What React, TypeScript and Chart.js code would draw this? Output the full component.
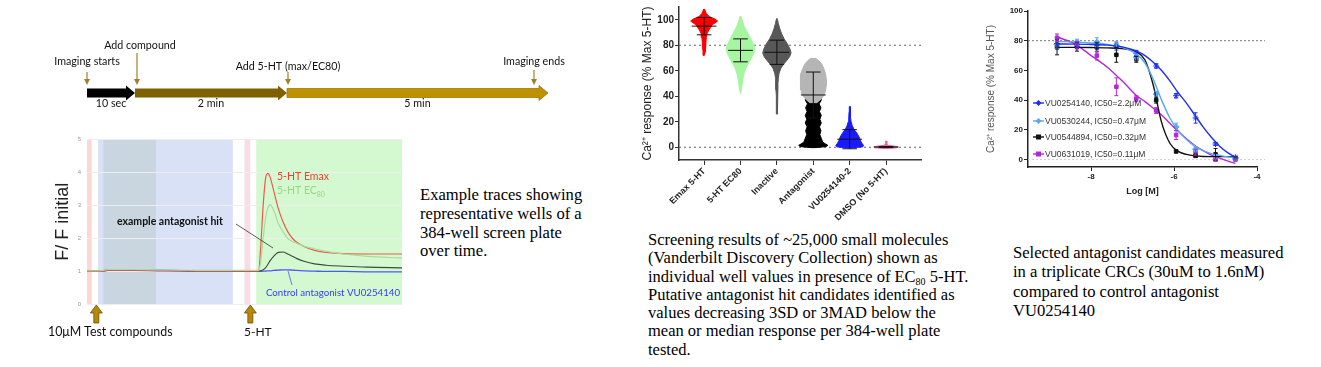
import React, { useEffect, useRef } from "react";
import { Chart, registerables } from "chart.js";
Chart.register(...registerables);
Chart.defaults.font.family = "'Liberation Sans', Arial, sans-serif";

// ===== Panel 1: protocol timeline (diagram units) =====
const timelineSegments = ["10 sec", "2 min", "5 min"];
const timelineStart = [0, 48, 200];
const timelineEnd = [48, 200, 461];
const timelineEvents = ["Imaging starts", "Add compound", "Add 5-HT (max/EC80)", "Imaging ends"];
const timelineEventAt = [0, 50, 201, 447];

// ===== Panel 2: example traces (time in s, F/F initial) =====
const traceTime = [0, 5, 10, 14, 18, 25, 40, 60, 80, 100, 120, 140, 147, 149, 151, 153, 155, 157, 160, 164, 168, 172, 176, 180, 186, 195, 205, 220, 240, 270];
const traceEmax = [1.0, 1.0, 1.0, 1.0, 1.03, 1.03, 1.03, 1.02, 1.01, 1.0, 1.0, 1.0, 1.0, 1.8, 3.0, 3.8, 3.97, 3.85, 3.45, 2.9, 2.5, 2.2, 2.0, 1.87, 1.75, 1.63, 1.57, 1.53, 1.52, 1.52];
const traceEC80 = [1.01, 1.01, 1.01, 1.02, 1.05, 1.05, 1.05, 1.04, 1.03, 1.02, 1.02, 1.02, 1.02, 1.3, 2.0, 2.6, 2.92, 3.02, 2.85, 2.45, 2.2, 2.0, 1.9, 1.84, 1.76, 1.68, 1.6, 1.52, 1.45, 1.4];
const traceHit = [1.0, 1.0, 1.0, 1.01, 1.04, 1.04, 1.04, 1.03, 1.02, 1.01, 1.01, 1.01, 1.0, 1.01, 1.04, 1.1, 1.2, 1.32, 1.45, 1.57, 1.58, 1.52, 1.45, 1.38, 1.3, 1.22, 1.18, 1.15, 1.12, 1.1];
const traceControl = [0.99, 0.99, 0.99, 1.0, 1.02, 1.02, 1.02, 1.01, 1.0, 0.99, 0.99, 0.99, 0.99, 0.99, 1.0, 1.0, 1.01, 1.01, 1.02, 1.03, 1.04, 1.04, 1.03, 1.02, 1.01, 1.0, 0.99, 0.99, 0.98, 0.98];
const bandStart = [0, 9.5, 14, 135, 145];
const bandEnd = [4, 125, 59, 140, 270];
const additionTimes = [8, 140];

// ===== Panel 3: screening distribution =====
const violinGroups = ["Emax 5-HT", "5-HT EC80", "Inactive", "Antagonist", "VU0254140-2", "DMSO (No 5-HT)"];
const violinMean = [95, 76, 74.5, 41, 6.3, 0.2];
const violinSD = [6.8, 9, 9.5, 18, 7.5, 0.3];
const emaxLevels = [108.5, 105, 102.5, 100.5, 99, 97.5, 96, 94, 92, 89, 86, 82, 78, 75, 72];
const emaxWidths = [0.01, 0.06, 0.14, 0.3, 0.37, 0.3, 0.22, 0.18, 0.13, 0.08, 0.06, 0.05, 0.04, 0.03, 0.005];
const ec80Levels = [103, 99, 95, 91, 87, 83, 80, 77, 74, 70, 66, 62, 58, 54, 50, 46, 42];
const ec80Widths = [0.01, 0.05, 0.1, 0.17, 0.25, 0.32, 0.37, 0.39, 0.37, 0.3, 0.22, 0.15, 0.1, 0.07, 0.05, 0.03, 0.005];
const inactiveLevels = [101, 97, 93, 89, 85, 81, 77, 74, 71, 68, 65, 62, 58, 54, 50, 45, 40, 35, 30, 26];
const inactiveWidths = [0.01, 0.04, 0.08, 0.13, 0.2, 0.29, 0.36, 0.39, 0.35, 0.27, 0.18, 0.11, 0.06, 0.04, 0.03, 0.025, 0.02, 0.015, 0.01, 0.003];
const antagonistAllLevels = [70, 68, 65, 61, 57, 53, 49, 45, 41, 38, 35];
const antagonistAllWidths = [0.05, 0.15, 0.24, 0.3, 0.34, 0.36, 0.36, 0.34, 0.3, 0.22, 0.1];
const antagonistHitLevels = [42, 40, 37, 34, 31, 28, 25, 22, 19, 16, 13, 10, 7, 4, 2.5, 1.5, 0.5, -0.3];
const antagonistHitWidths = [0.04, 0.2, 0.22, 0.16, 0.21, 0.17, 0.22, 0.18, 0.22, 0.17, 0.21, 0.18, 0.22, 0.26, 0.34, 0.4, 0.36, 0.05];
const controlLevels = [32, 28, 24, 20, 17, 14, 11, 8, 5, 3, 1.5, 0.3, -0.5];
const controlWidths = [0.01, 0.015, 0.025, 0.04, 0.07, 0.12, 0.2, 0.26, 0.3, 0.34, 0.38, 0.36, 0.05];
const dmsoLevels = [5, 3, 1.5, 0.8, 0.2, -0.4, -1];
const dmsoWidths = [0.01, 0.02, 0.04, 0.25, 0.33, 0.3, 0.02];

// ===== Panel 4: concentration-response curves =====
const crcLogConc = [-8.82, -8.34, -7.86, -7.39, -6.91, -6.43, -5.95, -5.48, -5.0, -4.52];
const crcNames = ["VU0254140, IC50=2.2μM", "VU0530244, IC50=0.47μM", "VU0544894, IC50=0.32μM", "VU0631019, IC50=0.11μM"];
const vu0254140Mean = [78, 77.5, 77, 76.5, 71.5, 63, 43, 28, 10.5, 1.5];
const vu0254140Err = [3, 2, 2, 2, 2, 1.5, 1.5, 3.5, 1, 0.5];
const vu0530244Mean = [77.5, 79, 79, 76.5, 69, 44, 22, 7, 2, 0.5];
const vu0530244Err = [3, 2, 3, 3, 2, 2, 2.5, 1.5, 1, 0.5];
const vu0544894Mean = [75.5, 76, 75.5, 70.5, 67.5, 40, 5.5, 2.5, 3.5, 1];
const vu0544894Err = [5, 3, 3, 5, 2, 2, 1, 1, 4, 0.5];
const vu0631019Mean = [82, 77, 70, 49, 41, 33, 16.5, 5, 0, 0];
const vu0631019Err = [2.5, 2.5, 3, 6, 2, 2, 3, 2, 1, 1];
const curveLog = [-8.82, -8.4, -8.0, -7.6, -7.2, -6.9, -6.7, -6.5, -6.3, -6.1, -5.9, -5.7, -5.5, -5.3, -5.1, -4.9, -4.7, -4.52];
const vu0254140Fit = [77.8, 77.7, 77.5, 77, 75.5, 73, 70, 65.5, 60, 53, 45, 38, 30, 22, 15, 9, 4.5, 1.5];
const vu0530244Fit = [79.5, 79.2, 78.5, 77.5, 75, 71, 65, 54, 40, 28, 19.5, 13.5, 9, 6, 4, 2.8, 1.8, 1.2];
const vu0544894Fit = [75.5, 75.5, 75.4, 75.2, 74.5, 72.5, 67, 50, 25, 11, 5.5, 3.5, 2.5, 2.1, 2, 2, 2, 2];
const vu0631019Fit = [82.5, 78, 70, 62, 51.5, 43, 39, 34.5, 30, 24.5, 19, 14, 9.5, 6, 3, 1, -1, -2.5];

const crcMeans = [vu0254140Mean, vu0530244Mean, vu0544894Mean, vu0631019Mean];
const crcErrs = [vu0254140Err, vu0530244Err, vu0544894Err, vu0631019Err];
const crcFits = [vu0254140Fit, vu0530244Fit, vu0544894Fit, vu0631019Fit];
const crcColors = ["#1f2ef5", "#5aa8f2", "#111111", "#b228d8"];
const crcMarkers = ["star", "rectRot", "rect", "rect"];

const pts = (xs: number[], ys: number[]) => xs.map((x, i) => ({ x, y: ys[i] }));
const violinShape = (center: number, levels: number[], widths: number[]) => {
  const right = levels.map((y, i) => ({ x: center + widths[i], y }));
  const left = levels.map((y, i) => ({ x: center - widths[i], y })).reverse();
  return [...right, ...left];
};

function ChartBox({ make, left, top, width, height }: any) {
  const ref = useRef<HTMLCanvasElement>(null);
  useEffect(() => {
    const chart = new Chart(ref.current as HTMLCanvasElement, make());
    return () => chart.destroy();
  }, []);
  return (
    <canvas ref={ref} width={width} height={height}
      style={{ position: "absolute", left, top, width, height }} />
  );
}

// ---------- timeline ----------
const makeTimeline = () => ({
  type: "scatter",
  data: { datasets: [] },
  options: {
    animation: false, responsive: false,
    layout: { padding: 0 },
    plugins: { legend: { display: false }, tooltip: { enabled: false } },
    scales: {
      x: { type: "linear", min: -47, max: 493, display: false },
      y: { type: "linear", min: 0, max: 1, display: false },
    },
  },
  plugins: [{
    id: "timeline",
    afterDraw(chart: any) {
      const ctx = chart.ctx; const xs = chart.scales.x;
      const cy = 63, bh = 4.5, hh = 7.5, hl = 9;
      const fills = ["#000000", "#7f6000", "#bf9000"];
      ctx.save();
      timelineSegments.forEach((lab: string, i: number) => {
        const a = xs.getPixelForValue(timelineStart[i]);
        const b = xs.getPixelForValue(timelineEnd[i]);
        ctx.beginPath();
        ctx.moveTo(a, cy - bh); ctx.lineTo(b - hl, cy - bh); ctx.lineTo(b - hl, cy - hh);
        ctx.lineTo(b, cy); ctx.lineTo(b - hl, cy + hh); ctx.lineTo(b - hl, cy + bh);
        ctx.lineTo(a, cy + bh); ctx.closePath();
        ctx.fillStyle = fills[i]; ctx.fill();
        if (i === 2) { ctx.strokeStyle = "#a07a00"; ctx.lineWidth = 0.8; ctx.stroke(); }
        ctx.fillStyle = "#111"; ctx.font = "10.7px Lato"; ctx.textAlign = "center"; ctx.textBaseline = "middle";
        ctx.fillText(lab, (a + b) / 2, 74);
      });
      const labelY = [32, 16, 37, 32];
      const arrowTop = [42, 23, 42, 40];
      timelineEvents.forEach((lab: string, i: number) => {
        const x = xs.getPixelForValue(timelineEventAt[i]);
        ctx.strokeStyle = "#a08030"; ctx.fillStyle = "#a08030"; ctx.lineWidth = 1.2;
        ctx.beginPath(); ctx.moveTo(x, arrowTop[i]); ctx.lineTo(x, 50); ctx.stroke();
        ctx.beginPath(); ctx.moveTo(x - 3, 49); ctx.lineTo(x + 3, 49); ctx.lineTo(x, 55); ctx.closePath(); ctx.fill();
        ctx.fillStyle = "#111"; ctx.font = "10.7px Lato"; ctx.textAlign = "center"; ctx.textBaseline = "middle";
        ctx.fillText(lab, x + (i === 1 ? 3 : 0), labelY[i]);
      });
      ctx.restore();
    },
  }],
});

// ---------- traces ----------
const makeTraces = () => ({
  type: "line",
  data: {
    datasets: [
      { data: pts(traceTime, traceEC80), borderColor: "#a9dc9c", borderWidth: 1.2 },
      { data: pts(traceTime, traceEmax), borderColor: "#ee5a4a", borderWidth: 1.2 },
      { data: pts(traceTime, traceHit), borderColor: "#3d4a3d", borderWidth: 1.1 },
      { data: pts(traceTime, traceControl), borderColor: "#4a5cf0", borderWidth: 1.3 },
    ].map((d) => ({ ...d, pointRadius: 0, cubicInterpolationMode: "monotone", fill: false })),
  },
  options: {
    animation: false, responsive: false,
    layout: { padding: { left: 0, right: 5, top: 9, bottom: 24 } },
    plugins: { legend: { display: false }, tooltip: { enabled: false } },
    scales: {
      x: {
        type: "linear", min: 0, max: 270,
        ticks: { stepSize: 50, font: { size: 6 }, color: "#999", padding: 3, callback: (v: number) => (v === 0 ? "" : v) },
        grid: { display: false }, border: { display: false },
        afterFit: (s: any) => { s.height = 12; },
      },
      y: {
        min: 0, max: 5,
        ticks: { stepSize: 1, font: { size: 6 }, color: "#999", padding: 6 },
        grid: { color: "#eeeeee", drawTicks: false }, border: { display: false },
        title: { display: true, text: "F/ F initial", font: { size: 18 }, color: "#222", padding: { top: 2, bottom: 0 } },
        afterFit: (s: any) => { s.width = 37; },
      },
    },
  },
  plugins: [{
    id: "bands",
    beforeDraw(chart: any) {
      const { ctx, chartArea, scales } = chart;
      const colors = ["#ffd5d5", "#d9e1f7", "#c9d6e0", "#f8dde6", "#d4f9d0"];
      ctx.save();
      bandStart.forEach((s: number, i: number) => {
        const a = scales.x.getPixelForValue(s), b = scales.x.getPixelForValue(bandEnd[i]);
        ctx.fillStyle = colors[i];
        ctx.fillRect(a, chartArea.top, b - a, chartArea.bottom - chartArea.top);
      });
      ctx.restore();
    },
  }, {
    id: "traceNotes",
    afterDraw(chart: any) {
      const { ctx, scales, chartArea } = chart;
      ctx.save();
      ctx.textBaseline = "middle"; ctx.textAlign = "left";
      ctx.fillStyle = "#ef4035"; ctx.font = "10.5px Lato"; ctx.fillText("5-HT Emax", 227, 47);
      ctx.fillStyle = "#93d982"; ctx.fillText("5-HT EC", 227, 61);
      const w = ctx.measureText("5-HT EC").width;
      ctx.font = "7px Lato"; ctx.fillText("80", 227 + w, 64.5);
      ctx.fillStyle = "#111"; ctx.font = "bold 10.5px Lato"; ctx.fillText("example antagonist hit", 67, 92);
      ctx.strokeStyle = "#333"; ctx.lineWidth = 0.8;
      ctx.beginPath(); ctx.moveTo(186, 94); ctx.lineTo(223, 118); ctx.stroke();
      ctx.fillStyle = "#3b3bef"; ctx.font = "9.7px Lato"; ctx.fillText("Control antagonist VU0254140", 216, 163);
      ctx.strokeStyle = "#4a5cf0";
      ctx.beginPath(); ctx.moveTo(238, 141); ctx.lineTo(242, 155); ctx.stroke();
      additionTimes.forEach((t: number) => {
        const x = scales.x.getPixelForValue(t);
        const y0 = chartArea.bottom + 1;
        ctx.beginPath();
        ctx.moveTo(x, y0); ctx.lineTo(x + 6, y0 + 8); ctx.lineTo(x + 2.5, y0 + 8); ctx.lineTo(x + 2.5, y0 + 18);
        ctx.lineTo(x - 2.5, y0 + 18); ctx.lineTo(x - 2.5, y0 + 8); ctx.lineTo(x - 6, y0 + 8); ctx.closePath();
        ctx.fillStyle = "#b8860b"; ctx.fill(); ctx.strokeStyle = "#6b5000"; ctx.lineWidth = 0.8; ctx.stroke();
      });
      ctx.restore();
    },
  }],
});

// ---------- violin ----------
const makeViolin = () => {
  const shapes = [
    { d: violinShape(0, emaxLevels, emaxWidths), c: "#ff0000" },
    { d: violinShape(1, ec80Levels, ec80Widths), c: "#a6f5a0" },
    { d: violinShape(2, inactiveLevels, inactiveWidths), c: "#585858" },
    { d: violinShape(3, antagonistAllLevels, antagonistAllWidths), c: "#b5b5b5" },
    { d: violinShape(3, antagonistHitLevels, antagonistHitWidths), c: "#000000" },
    { d: violinShape(4, controlLevels, controlWidths), c: "#1a1aff" },
    { d: violinShape(5, dmsoLevels, dmsoWidths), c: "#f0608c" },
  ];
  return {
    type: "scatter",
    data: {
      datasets: shapes.map((s) => ({
        data: s.d, showLine: true, fill: "shape", backgroundColor: s.c, borderColor: s.c,
        borderWidth: 1, pointRadius: 0, tension: 0,
      })),
    },
    options: {
      animation: false, responsive: false,
      layout: { padding: { left: 0, right: 9, top: 2, bottom: 8 } },
      plugins: { legend: { display: false }, tooltip: { enabled: false } },
      scales: {
        x: {
          type: "linear", min: -0.69, max: 5.96,
          afterBuildTicks: (s: any) => { s.ticks = violinGroups.map((_, i) => ({ value: i })); },
          ticks: {
            callback: (v: number) => violinGroups[Math.round(v)], minRotation: 45, maxRotation: 45, autoSkip: false,
            font: { size: 9, weight: "bold" }, color: "#222", padding: 1,
          },
          grid: { display: true, drawOnChartArea: false, drawTicks: true, tickLength: 5, color: "#333" },
          border: { display: true, color: "#333", width: 1.5 },
          afterFit: (s: any) => { s.height = 62; },
        },
        y: {
          min: -10, max: 110,
          afterBuildTicks: (s: any) => { s.ticks = [0, 20, 40, 60, 80, 100].map((v) => ({ value: v })); },
          ticks: { font: { size: 10, weight: "bold" }, color: "#222", padding: 1 },
          grid: { display: true, drawOnChartArea: false, drawTicks: true, tickLength: 4, color: "#333" },
          border: { display: true, color: "#333", width: 1.5 },
          title: { display: true, text: "Ca²⁺ response (% Max 5-HT)", font: { size: 12 }, color: "#222", padding: { top: 10, bottom: 0 } },
          afterFit: (s: any) => { s.width = 49; },
        },
      },
    },
    plugins: [{
      id: "refLines",
      beforeDatasetsDraw(chart: any) {
        const { ctx, chartArea, scales } = chart;
        ctx.save(); ctx.strokeStyle = "#666"; ctx.lineWidth = 1; ctx.setLineDash([2, 3]);
        [80, 0].forEach((v) => {
          const y = scales.y.getPixelForValue(v);
          ctx.beginPath(); ctx.moveTo(chartArea.left, y); ctx.lineTo(chartArea.right, y); ctx.stroke();
        });
        ctx.restore();
      },
    }, {
      id: "meanSD",
      afterDatasetsDraw(chart: any) {
        const { ctx, scales } = chart;
        ctx.save(); ctx.strokeStyle = "#111"; ctx.lineWidth = 1;
        violinMean.forEach((m: number, i: number) => {
          const sd = violinSD[i];
          const yM = scales.y.getPixelForValue(m), yU = scales.y.getPixelForValue(m + sd), yL = scales.y.getPixelForValue(m - sd);
          const xw = (d: number) => scales.x.getPixelForValue(i + d);
          ctx.beginPath();
          ctx.moveTo(xw(-0.34), yM); ctx.lineTo(xw(0.34), yM);
          ctx.moveTo(xw(-0.2), yU); ctx.lineTo(xw(0.2), yU);
          ctx.moveTo(xw(-0.2), yL); ctx.lineTo(xw(0.2), yL);
          ctx.moveTo(xw(0), yU); ctx.lineTo(xw(0), yL);
          ctx.stroke();
        });
        ctx.restore();
      },
    }],
  };
};

// ---------- CRC ----------
const makeCRC = () => {
  const curves = crcFits.map((f, i) => ({
    data: pts(curveLog, f), showLine: true, borderColor: crcColors[i], borderWidth: 1.4,
    pointRadius: 0, cubicInterpolationMode: "monotone", fill: false,
  }));
  const points = crcMeans.map((m, i) => ({
    data: pts(crcLogConc, m), showLine: false, pointStyle: crcMarkers[i], pointRadius: i < 2 ? 3 : 2.5,
    backgroundColor: crcColors[i], borderColor: crcColors[i], borderWidth: 1,
  }));
  return {
    type: "scatter",
    data: { datasets: [...curves, ...points] },
    options: {
      animation: false, responsive: false,
      layout: { padding: { left: 0, right: 13, top: 11, bottom: 3 } },
      plugins: { legend: { display: false }, tooltip: { enabled: false } },
      scales: {
        x: {
          type: "linear", min: -9.52, max: -4,
          afterBuildTicks: (s: any) => { s.ticks = [-8, -6, -4].map((v) => ({ value: v })); },
          ticks: { font: { size: 8, weight: "bold" }, color: "#222", padding: 1 },
          grid: { display: true, drawOnChartArea: false, drawTicks: true, tickLength: 4, color: "#222" },
          border: { display: true, color: "#222", width: 1.5 },
          title: { display: true, text: "Log [M]", font: { size: 9, weight: "bold" }, color: "#222", padding: { top: 2, bottom: 0 } },
          afterFit: (s: any) => { s.height = 30; },
        },
        y: {
          min: -5, max: 100,
          afterBuildTicks: (s: any) => { s.ticks = [0, 20, 40, 60, 80, 100].map((v) => ({ value: v })); },
          ticks: { font: { size: 8, weight: "bold" }, color: "#222", padding: 1 },
          grid: { display: true, drawOnChartArea: false, drawTicks: true, tickLength: 4, color: "#222" },
          border: { display: true, color: "#222", width: 1.5 },
          title: { display: true, text: "Ca²⁺ response (% Max 5-HT)", font: { size: 10 }, color: "#555", padding: { top: 15, bottom: 0 } },
          afterFit: (s: any) => { s.width = 58; },
        },
      },
    },
    plugins: [{
      id: "crcRef",
      beforeDatasetsDraw(chart: any) {
        const { ctx, chartArea, scales } = chart;
        ctx.save(); ctx.lineWidth = 1; ctx.setLineDash([2, 2]);
        [[80, "#777"], [0, "#d0d0d0"]].forEach(([v, c]: any) => {
          const y = scales.y.getPixelForValue(v);
          ctx.strokeStyle = c;
          ctx.beginPath(); ctx.moveTo(chartArea.left, y); ctx.lineTo(chartArea.right + 8, y); ctx.stroke();
        });
        ctx.restore();
      },
    }, {
      id: "crcErr",
      afterDatasetsDraw(chart: any) {
        const { ctx, scales, chartArea } = chart;
        ctx.save(); ctx.lineWidth = 1;
        crcMeans.forEach((m, i) => {
          ctx.strokeStyle = crcColors[i];
          m.forEach((v, j) => {
            const e = crcErrs[i][j];
            const x = scales.x.getPixelForValue(crcLogConc[j]);
            const y1 = scales.y.getPixelForValue(v + e), y2 = scales.y.getPixelForValue(v - e);
            ctx.beginPath();
            ctx.moveTo(x, y1); ctx.lineTo(x, y2);
            ctx.moveTo(x - 2, y1); ctx.lineTo(x + 2, y1);
            ctx.moveTo(x - 2, y2); ctx.lineTo(x + 2, y2);
            ctx.stroke();
          });
        });
        const offs = [92, 110, 126, 143];
        crcNames.forEach((name, i) => {
          const y = chartArea.top + offs[i];
          const x0 = chartArea.left + 5;
          ctx.strokeStyle = crcColors[i]; ctx.fillStyle = crcColors[i]; ctx.lineWidth = 1.4;
          ctx.beginPath(); ctx.moveTo(x0, y); ctx.lineTo(x0 + 11, y); ctx.stroke();
          ctx.beginPath();
          if (i < 2) { ctx.moveTo(x0 + 5.5, y - 3); ctx.lineTo(x0 + 8.5, y); ctx.lineTo(x0 + 5.5, y + 3); ctx.lineTo(x0 + 2.5, y); ctx.closePath(); }
          else { ctx.rect(x0 + 3, y - 2.5, 5, 5); }
          ctx.fill();
          ctx.fillStyle = "#333"; ctx.font = "8.5px 'Liberation Sans'"; ctx.textAlign = "left"; ctx.textBaseline = "middle";
          ctx.fillText(name, x0 + 12, y + 0.5);
        });
        ctx.restore();
      },
    }],
  };
};

const serif: any = {
  position: "absolute", fontFamily: "'Liberation Serif', 'Times New Roman', serif",
  color: "#000", whiteSpace: "nowrap",
};
const sub: any = { fontSize: 10, position: "relative", top: 3, lineHeight: 0 };

export default function App() {
  return (
    <div style={{ position: "absolute", left: 0, top: 0, width: 1321, height: 367, background: "#fff", overflow: "hidden" }}>
      <ChartBox make={makeTimeline} left={40} top={30} width={540} height={80} />
      <ChartBox make={makeTraces} left={50} top={130} width={360} height={210} />
      <div style={{ position: "absolute", left: 48, top: 324, fontFamily: "Lato", fontSize: 12.4, color: "#111", whiteSpace: "nowrap" }}>10μM Test compounds</div>
      <div style={{ position: "absolute", left: 244, top: 324, fontFamily: "Lato", fontSize: 12, color: "#111", whiteSpace: "nowrap" }}>5-HT</div>
      <div style={{ ...serif, left: 420, top: 186, fontSize: 16.6, lineHeight: "18.8px" }}>
        Example traces showing<br />representative wells of a<br />384-well screen plate<br />over time.
      </div>
      <ChartBox make={makeViolin} left={630} top={0} width={300} height={230} />
      <div style={{ ...serif, left: 648, top: 231, fontSize: 16.5, lineHeight: "18.3px" }}>
        Screening results of ~25,000 small molecules<br />
        (Vanderbilt Discovery Collection) shown as<br />
        individual well values in presence of EC<span style={sub}>80</span> 5-HT.<br />
        Putative antagonist hit candidates identified as<br />
        values decreasing 3SD or 3MAD below the<br />
        mean or median response per 384-well plate<br />
        tested.
      </div>
      <ChartBox make={makeCRC} left={970} top={0} width={300} height={200} />
      <div style={{ ...serif, left: 1013, top: 243, fontSize: 16.6, lineHeight: "19.4px" }}>
        Selected antagonist candidates measured<br />
        in a triplicate CRCs (30uM to 1.6nM)<br />
        compared to control antagonist<br />
        VU0254140
      </div>
    </div>
  );
}
